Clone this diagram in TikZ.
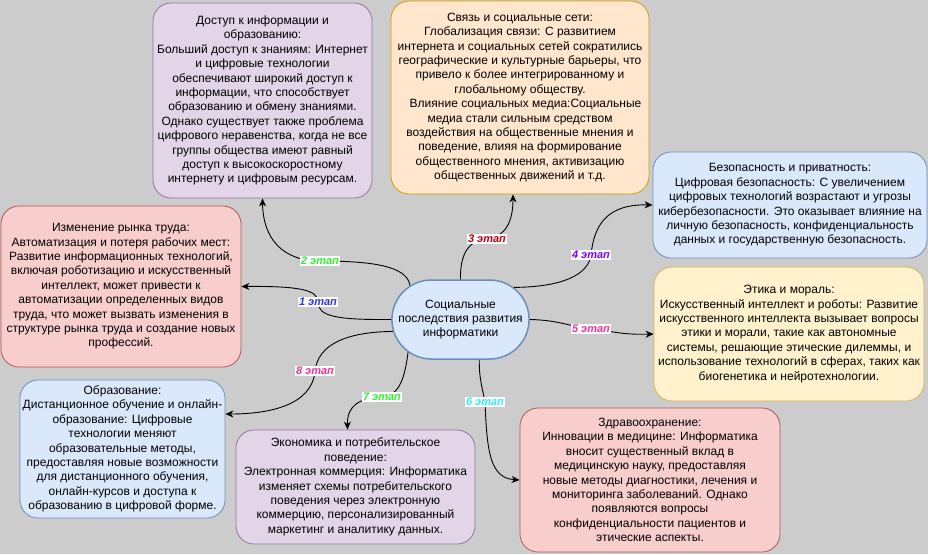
\documentclass[tikz,border=0pt]{standalone}
\usepackage{fontspec}
\setmainfont{Liberation Sans}
\usetikzlibrary{shapes.misc,arrows.meta,calc}
\definecolor{bgc}{HTML}{CCCCCC}
\definecolor{purF}{HTML}{E1D5E7}\definecolor{purD}{HTML}{9673A6}
\definecolor{orF}{HTML}{FFE6CC}\definecolor{orD}{HTML}{D79B00}
\definecolor{blF}{HTML}{DAE8FC}\definecolor{blD}{HTML}{6C8EBF}
\definecolor{yeF}{HTML}{FFF2CC}\definecolor{yeD}{HTML}{D6B656}
\definecolor{reF}{HTML}{F8CECC}\definecolor{reD}{HTML}{B85450}
\definecolor{cA}{HTML}{3333EE}
\definecolor{cB}{HTML}{33EE33}
\definecolor{cC}{HTML}{C00018}
\definecolor{cD}{HTML}{7F00FF}
\definecolor{cE}{HTML}{F03399}
\definecolor{cF}{HTML}{33EEEE}
\begin{document}
\begin{tikzpicture}[x=1pt,y=-1pt,
  box/.style={draw, rounded corners=18pt, line width=0.8pt, align=center, inner sep=1pt,
    font=\fontsize{12}{14.4}\selectfont},
  purbox/.style={box, fill=purF, draw=purD},
  orbox/.style={box, fill=orF, draw=orD},
  blbox/.style={box, fill=blF, draw=blD},
  yebox/.style={box, fill=yeF, draw=yeD},
  rebox/.style={box, fill=reF, draw=reD},
  conn/.style={draw=black, line width=0.9pt, -{Stealth[length=8pt,width=7pt,inset=2.5pt]}},
  lbl/.style={fill=white, inner sep=1pt, font=\fontsize{11}{12}\selectfont\bfseries\itshape}]
\useasboundingbox (0,0) rectangle (928,554);
\fill[bgc] (0,0) rectangle (928,554);

\node[purbox, minimum width=219pt, minimum height=195pt] (acc) at (262.5,100.5) {Доступ к информации и\\образованию:\\Больший доступ к знаниям: Интернет\\и цифровые технологии\\обеспечивают широкий доступ к\\информации, что способствует\\образованию и обмену знаниями.\\Однако существует также проблема\\цифрового неравенства, когда не все\\группы общества имеют равный\\доступ к высокоскоростному\\интернету и цифровым ресурсам.};

\node[orbox, minimum width=258pt, minimum height=193pt] (con) at (520,97.5) {Связь и социальные сети:\\Глобализация связи: С развитием\\интернета и социальных сетей сократились\\географические и культурные барьеры, что\\привело к более интегрированному и\\глобальному обществу.\\\hspace*{11pt}Влияние социальных медиа:Социальные\\медиа стали сильным средством\\воздействия на общественные мнения и\\поведение, влияя на формирование\\общественного мнения, активизацию\\общественных движений и т.д.};

\node[blbox, minimum width=274pt, minimum height=106pt] (sec) at (790,205) {Безопасность и приватность:\\Цифровая безопасность: С увеличением\\цифровых технологий возрастают и угрозы\\кибербезопасности. Это оказывает влияние на\\личную безопасность, конфиденциальность\\данных и государственную безопасность.};

\node[yebox, minimum width=270pt, minimum height=134pt] (eth) at (789,334) {Этика и мораль:\\Искусственный интеллект и роботы: Развитие\\искусственного интеллекта вызывает вопросы\\этики и морали, такие как автономные\\системы, решающие этические дилеммы, и\\использование технологий в сферах, таких как\\биогенетика и нейротехнологии.};

\node[rebox, minimum width=240pt, minimum height=161pt] (lab) at (121,286.5) {Изменение рынка труда:\\Автоматизация и потеря рабочих мест:\\Развитие информационных технологий,\\включая роботизацию и искусственный\\интеллект, может привести к\\автоматизации определенных видов\\труда, что может вызвать изменения в\\структуре рынка труда и создание новых\\профессий.};

\node[blbox, minimum width=205pt, minimum height=138pt] (edu) at (122.5,449) {Образование:\\Дистанционное обучение и онлайн-\\образование: Цифровые\\технологии меняют\\образовательные методы,\\предоставляя новые возможности\\для дистанционного обучения,\\онлайн-курсов и доступа к\\образованию в цифровой форме.};

\node[purbox, minimum width=239pt, minimum height=114pt] (eco) at (355.5,487) {Экономика и потребительское\\поведение:\\Электронная коммерция: Информатика\\изменяет схемы потребительского\\поведения через электронную\\коммерцию, персонализированный\\маркетинг и аналитику данных.};

\node[rebox, minimum width=260pt, minimum height=144pt] (hea) at (650,480) {Здравоохранение:\\Инновации в медицине: Информатика\\вносит существенный вклад в\\медицинскую науку, предоставляя\\новые методы диагностики, лечения и\\мониторинга заболеваний. Однако\\появляются вопросы\\конфиденциальности пациентов и\\этические аспекты.};

\node[rounded rectangle, draw=blD, fill=blF, line width=1.5pt, minimum width=131pt, minimum height=79pt, align=center, inner sep=1pt, font=\fontsize{12}{14.4}\selectfont] (c) at (460.5,319.5) {Социальные\\последствия развития\\информатики};

% connectors
\draw[conn] (c.180) .. controls (335,320) and (318,316) .. (318,302) node[lbl,text=cA] (l1) {1 этап} .. controls (318,290) and (300,286) .. (lab.east);
\draw[conn] (c.146) .. controls (407,266) and (372,261) .. (320,261) node[lbl,text=cB] (l2) {2 этап} .. controls (282,261) and (263,238) .. (acc.south);
\draw[conn] (c.north) .. controls (460,255) and (468,240) .. (487,239) node[lbl,text=cC] (l3) {3 этап} .. controls (505,237) and (513,222) .. ([xshift=-7pt]con.south);
\draw[conn] (c.31) .. controls (560,287) and (588,276) .. (591,255) node[lbl,text=cD] (l4) {4 этап} .. controls (594,224) and (608,204) .. (sec.west);
\draw[conn] (c.east) .. controls (560,320) and (575,328) .. (591,329) node[lbl,text=cE] (l5) {5 этап} .. controls (612,331) and (622,335) .. (eth.west);
\draw[conn] (c.-65) .. controls (479,380) and (483,390) .. (485,402) node[lbl,text=cF] (l6) {6 этап} .. controls (487,452) and (490,478) .. (hea.west);
\draw[conn] (c.212) .. controls (405,376) and (400,396) .. (382,397) node[lbl,text=cB] (l7) {7 этап} .. controls (360,398) and (347,405) .. ([xshift=-8pt]eco.north);
\draw[conn] (c.190) .. controls (345,332) and (318,345) .. (315,371) node[lbl,text=cE] (l8) {8 этап} .. controls (312,405) and (270,414) .. ([yshift=35pt]edu.east);
\end{tikzpicture}
\end{document}
